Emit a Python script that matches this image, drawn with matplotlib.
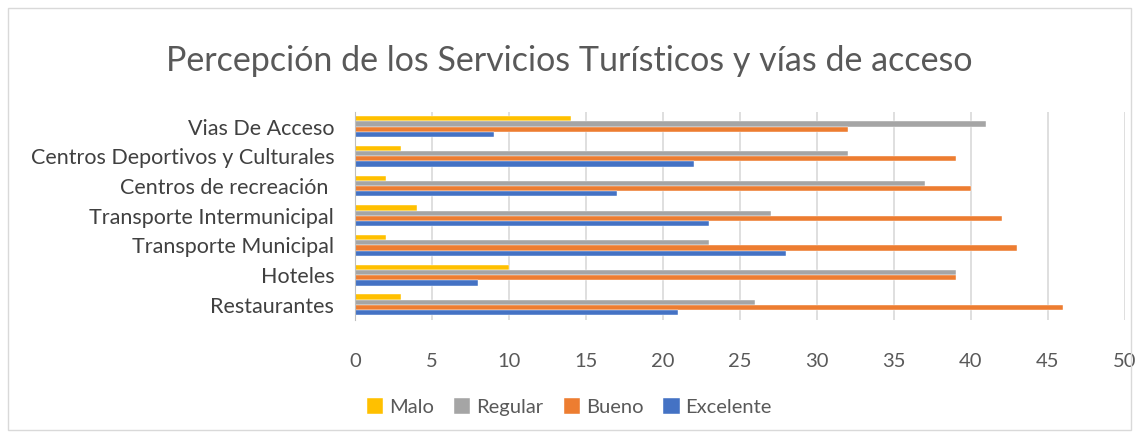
import matplotlib.pyplot as plt
from matplotlib.patches import Rectangle
import numpy as np

plt.rcParams['font.family'] = ['Lato', 'DejaVu Sans']

categorias = ["Restaurantes", "Hoteles", "Transporte Municipal",
              "Transporte Intermunicipal", "Centros de recreación ",
              "Centros Deportivos y Culturales", "Vias De Acceso"]
malo = [3, 10, 2, 4, 2, 3, 14]
regular = [26, 39, 23, 27, 37, 32, 41]
bueno = [46, 39, 43, 42, 40, 39, 32]
excelente = [21, 8, 28, 23, 17, 22, 9]

series = [("Malo", malo, "#FFC000"),
          ("Regular", regular, "#A5A5A5"),
          ("Bueno", bueno, "#ED7D31"),
          ("Excelente", excelente, "#4472C4")]

fig = plt.figure(figsize=(11.39, 4.38), dpi=100)
fig.patches.append(Rectangle((0.007, 0.018), 0.986, 0.964, transform=fig.transFigure,
                             fill=False, edgecolor="#D9D9D9", linewidth=1))
ax = fig.add_axes([0.3117, 0.27, 0.676, 0.475])

y = np.arange(len(categorias))
h = 0.175
offsets = [1.5, 0.5, -0.5, -1.5]
for (nombre, vals, col), off in zip(series, offsets):
    ax.barh(y + off * h, vals, height=h, color=col, label=nombre,
            edgecolor="white", linewidth=0.3)

ax.set_xlim(0, 50)
ax.set_ylim(-0.5, len(categorias) - 0.5)
ax.set_xticks(range(0, 51, 5))
ax.set_yticks(y)
ax.set_yticklabels(categorias)
ax.tick_params(axis='x', length=0, labelsize=14.5, colors="#595959", pad=24)
ax.tick_params(axis='y', length=0, labelsize=15.5, colors="#404040", pad=15)
ax.grid(axis='x', color="#D9D9D9", linewidth=1.2)
ax.set_axisbelow(True)
for s in ["top", "right", "bottom"]:
    ax.spines[s].set_visible(False)
ax.spines["left"].set_color("#BFBFBF")

fig.text(0.5, 0.86, "Percepción de los Servicios Turísticos y vías de acceso",
         ha="center", va="center", fontsize=24.5, color="#595959")

handles, labels = ax.get_legend_handles_labels()
fig.legend(handles, labels, loc="center", bbox_to_anchor=(0.5, 0.07), ncol=4,
           frameon=False, fontsize=14.5, handlelength=0.8, handleheight=0.8,
           handletextpad=0.3, columnspacing=1.0, labelcolor="#595959")

fig.savefig("out.png", dpi=100)
